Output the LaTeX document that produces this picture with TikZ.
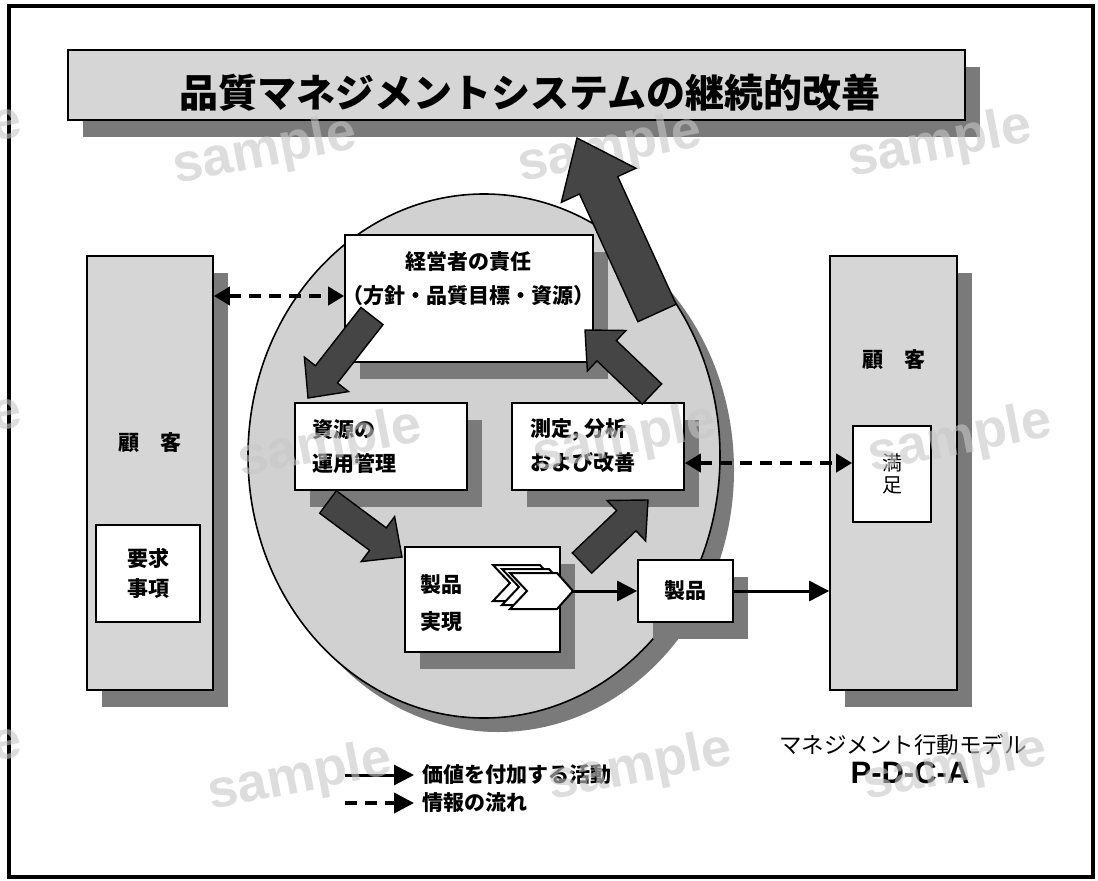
\documentclass[tikz,border=0pt]{standalone}
\usepackage{fontspec}
\setmainfont{Liberation Sans}
\newfontfamily\jp{Noto Sans CJK JP}
\usetikzlibrary{calc,arrows.meta,shadows}
\definecolor{lightfill}{gray}{0.84}
\definecolor{circfill}{gray}{0.82}
\definecolor{shadowgray}{gray}{0.48}
\definecolor{darkfill}{gray}{0.27}
\newcommand\fs[1]{\fontsize{#1pt}{#1pt}\selectfont}
\newcommand\barrow[5]{%
  \coordinate (bh) at ($(#2)!#5!(#1)$);
  \filldraw[blockarrow] ($(#1)!#3!90:(#2)$) -- ($(bh)!#3!90:(#2)$) -- ($(bh)!#4!90:(#2)$) -- (#2)
    -- ($(bh)!#4!-90:(#2)$) -- ($(bh)!#3!-90:(#2)$) -- ($(#1)!#3!-90:(#2)$) -- cycle;}
\tikzset{
  box/.style={draw=black, line width=1.7pt, fill=white, inner sep=0pt},
  shadowed/.style={drop shadow={shadow xshift=15pt, shadow yshift=-17pt, fill=shadowgray, opacity=1}},
  graybox/.style={box, fill=lightfill},
  jtext/.style={font=\jp\bfseries\fs{21}, inner sep=0pt},
  blockarrow/.style={fill=darkfill, draw=black, line width=1.4pt, line join=miter},
  solidarr/.style={line width=3pt, -{Triangle[length=20pt,width=20pt]}},
  infoarr/.style={line width=4pt, dash pattern=on 12pt off 8pt, {Triangle[length=16pt,width=18pt]}-{Triangle[length=16pt,width=18pt]}},
  legdash/.style={line width=4pt, dash pattern=on 12pt off 8pt, -{Triangle[length=20pt,width=20pt]}},
  chev/.style={fill=white, draw=black, line width=2pt, line join=miter},
  wm/.style={font=\bfseries\fs{54}, text=black!22, opacity=0.6, rotate=11, inner sep=0pt}
}
\begin{document}
\begin{tikzpicture}[x=1pt,y=-1pt]
\useasboundingbox (0,0) rectangle (1098,881);
\fill[white] (0,0) rectangle (1098,881);
\draw[line width=3.5pt] (9,6) rectangle (1093,877);

% title
\node[graybox, shadowed, minimum width=897pt, minimum height=70pt] (title) at (516.5,85) {};
\node[font=\jp\bfseries\fs{39}, inner sep=0pt] (titletext) at (530,93) {品質マネジメントシステムの継続的改善};

% big circle
\fill[fill=shadowgray] (498,470) ellipse [x radius=236, y radius=262];
\draw[fill=circfill, line width=1.6pt] (484,456) ellipse [x radius=236, y radius=262];

% customers
\node[graybox, shadowed, minimum width=126pt, minimum height=434pt] (custL) at (150,473) {};
\node[graybox, shadowed, minimum width=127pt, minimum height=434pt] (custR) at (893.5,473) {};
\node[jtext] (custLt) at (150,443) {顧\hspace{1em}客};
\node[jtext] (custRt) at (893.5,360) {顧\hspace{1em}客};
\node[box, minimum width=104pt, minimum height=97pt] (req) at (148,573.5) {};
\node[jtext, align=center] (reqt) at (148,573) {要求\\[9pt]事項};
\node[box, minimum width=78pt, minimum height=96pt] (sat) at (892,474) {};
\node[font=\jp\fs{20}, inner sep=0pt, align=center] (satt) at (892,474) {満\\[2pt]足};

% inner boxes
\node[box, shadowed, minimum width=248pt, minimum height=127pt] (mgmt) at (469,298.5) {};
\node[jtext] (mgmt1) at (468,262) {経営者の責任};
\node[jtext] (mgmt2) at (468,296) {（方針・品質目標・資源）};

\node[box, shadowed, minimum width=172pt, minimum height=87pt] (res) at (381,446.5) {};
\node[jtext, anchor=west] (res1) at (312,430) {資源の};
\node[jtext, anchor=west] (res2) at (312,463) {運用管理};

\node[box, shadowed, minimum width=172pt, minimum height=87pt] (meas) at (598,446.5) {};
\node[jtext, anchor=west] (meas1) at (530,430) {測定, 分析};
\node[jtext, anchor=west] (meas2) at (530,463) {および改善};

\node[box, shadowed, minimum width=155pt, minimum height=105pt] (real) at (482.5,599.5) {};
\node[jtext, anchor=west] (real1) at (420,585) {製品};
\node[jtext, anchor=west] (real2) at (420,622) {実現};

\node[box, shadowed, minimum width=95pt, minimum height=62pt] (prod) at (685.5,591) {};
\node[jtext] (prodt) at (685.5,591) {製品};

% chevrons
\foreach \dx/\dy in {-17/-8, -8/-4, 0/0} {
  \begin{scope}[shift={(\dx,\dy)}]
    \filldraw[chev] (510,573) -- (527,591) -- (510,609) -- (557,609) -- (573,591) -- (557,573) -- cycle;
  \end{scope}
}
\coordinate (chevtip) at (573,591);

% value flow arrows
\draw[solidarr] (chevtip) -- (prod.west);
\draw[solidarr] (prod.east) -- (custR.west |- prod.east);

% information arrows
\draw[infoarr] (custL.east |- 0,296) -- (mgmt.west |- 0,296);
\draw[infoarr] (meas.east |- 0,463) -- (sat.west |- 0,463);

% watermark behind the big arrow
\node[wm] (w2) at (610,150) {sample};

% block arrows (PDCA cycle)
\coordinate (a1s) at (372,316); \coordinate (a1e) at (308,398);
\coordinate (a2s) at (328,502); \coordinate (a2e) at (402,557);
\coordinate (a3s) at (582,563); \coordinate (a3e) at (648,500);
\coordinate (a4s) at (652,394); \coordinate (a4e) at (585,330);
\coordinate (a5s) at (657,313); \coordinate (a5e) at (577,138);
\barrow{a1s}{a1e}{14pt}{28pt}{30pt}
\barrow{a2s}{a2e}{14pt}{28pt}{30pt}
\barrow{a3s}{a3e}{14pt}{28pt}{30pt}
\barrow{a4s}{a4e}{14pt}{28pt}{30pt}
\barrow{a5s}{a5e}{21pt}{41pt}{52pt}

% legend
\coordinate (l1s) at (345,775); \coordinate (l1e) at (414,775);
\coordinate (l2s) at (345,803); \coordinate (l2e) at (414,803);
\draw[solidarr] (l1s) -- (l1e);
\draw[legdash] (l2s) -- (l2e);
\node[jtext, anchor=west] (leg1) at (422,775) {価値を付加する活動};
\node[jtext, anchor=west] (leg2) at (422,803) {情報の流れ};

\node[font=\jp\fs{22.5}, inner sep=0pt] (model) at (903,745) {マネジメント行動モデル};
\node[font=\bfseries\fs{31}, inner sep=0pt] (pdca) at (910,773) {P-D-C-A};

% watermarks
\begin{scope}
\clip (0,0) rectangle (1098,881);
\node[wm] (w1) at (265,152) {sample};
\node[wm] (w3) at (940,145) {sample};
\node[wm] (w4) at (-70,140) {sample};
\node[wm] (w5) at (330,445) {sample};
\node[wm] (w6) at (625,440) {sample};
\node[wm] (w7) at (960,440) {sample};
\node[wm] (w8) at (-70,430) {sample};
\node[wm] (w9) at (300,778) {sample};
\node[wm] (w10) at (640,768) {sample};
\node[wm] (w11) at (955,768) {sample};
\node[wm] (w12) at (-70,760) {sample};
\end{scope}
\end{tikzpicture}
\end{document}
